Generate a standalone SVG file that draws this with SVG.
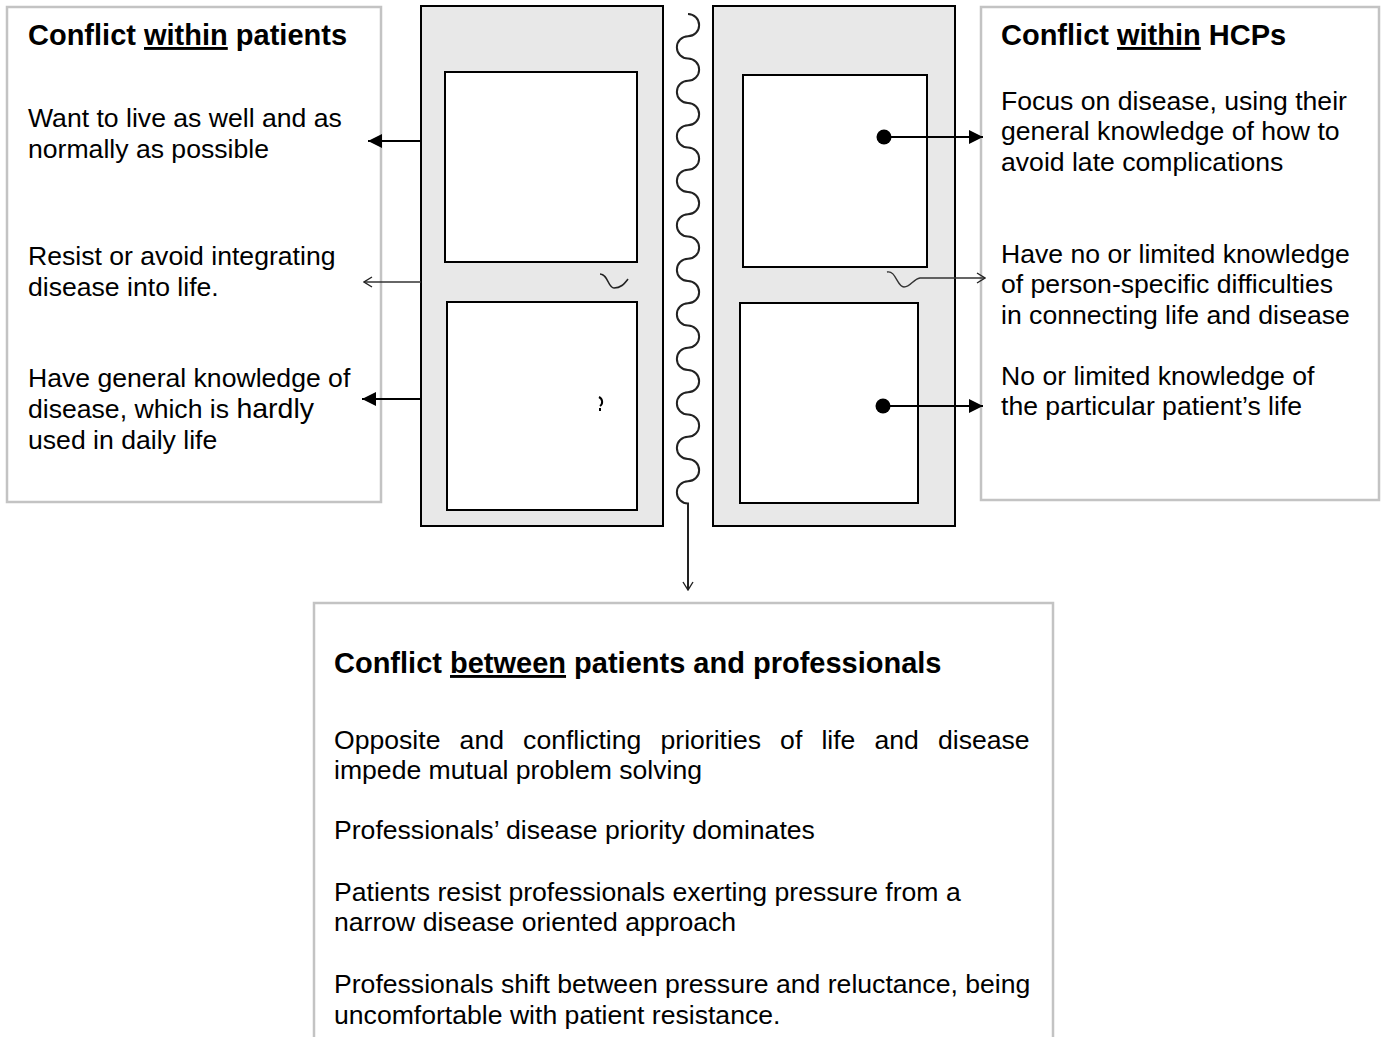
<svg xmlns="http://www.w3.org/2000/svg" width="1383" height="1037" viewBox="0 0 1383 1037">
<style>
text{font-family:"Liberation Sans",Arial,sans-serif;fill:#000}
.t{font-size:29px;font-weight:bold}
.b{font-size:26.6px}
.tb{fill:#fff;stroke:#c3c3c3;stroke-width:2.5}
.pn{fill:#e8e8e8;stroke:#000;stroke-width:2}
.in{fill:#fff;stroke:#000;stroke-width:2}
.af{fill:none;stroke:#000;stroke-width:2}
.ao{fill:none;stroke:#333;stroke-width:1.4}
</style>
<defs>
<marker id="arrF" viewBox="0 0 14 14" refX="14" refY="7" markerWidth="14" markerHeight="14" orient="auto" markerUnits="userSpaceOnUse"><path d="M0,0 L14,7 L0,14 Z" fill="#000"/></marker>
<marker id="arrO" viewBox="0 0 10 12" refX="9" refY="6" markerWidth="10" markerHeight="12" orient="auto" markerUnits="userSpaceOnUse"><path d="M1,1 L9,6 L1,11" fill="none" stroke="#222" stroke-width="1.4"/></marker>
<marker id="dot" viewBox="0 0 16 16" refX="8" refY="8" markerWidth="16" markerHeight="16" markerUnits="userSpaceOnUse"><circle cx="8" cy="8" r="7.5" fill="#000"/></marker>
</defs>
<rect width="1383" height="1037" fill="#fff"/>

<g id="patients-box">
<rect class="tb" x="7" y="7" width="374" height="495"/>
<text class="t" x="28" y="45">Conflict <tspan text-decoration="underline">within</tspan> patients</text>
<text class="b" x="28" y="127">Want to live as well and as</text>
<text class="b" x="28" y="158">normally as possible</text>
<text class="b" x="28" y="265">Resist or avoid integrating</text>
<text class="b" x="28" y="296">disease into life.</text>
<text class="b" x="28" y="387">Have general knowledge of</text>
<text class="b" x="28" y="418">disease, which is <tspan font-size="28.5">hardly</tspan></text>
<text class="b" x="28" y="449">used in daily life</text>
</g>

<g id="hcps-box">
<rect class="tb" x="981" y="7" width="398" height="493"/>
<text class="t" x="1001" y="45">Conflict <tspan text-decoration="underline">within</tspan> HCPs</text>
<text class="b" x="1001" y="110">Focus on disease, using their</text>
<text class="b" x="1001" y="140">general knowledge of how to</text>
<text class="b" x="1001" y="171">avoid late complications</text>
<text class="b" x="1001" y="263">Have no or limited knowledge</text>
<text class="b" x="1001" y="293">of person-specific difficulties</text>
<text class="b" x="1001" y="324">in connecting life and disease</text>
<text class="b" x="1001" y="385">No or limited knowledge of</text>
<text class="b" x="1001" y="415">the particular patient’s life</text>
</g>

<g id="patient-panel">
<rect class="pn" x="421" y="6" width="242" height="520"/>
<rect class="in" x="445" y="72" width="192" height="190"/>
<rect class="in" x="447" y="302" width="190" height="208"/>
<path d="M600,274 C608,274 608,288 614,288 C621,288 624,284 628,279" fill="none" stroke="#222" stroke-width="1.6"/>
<path d="M599,397 C603,399 603,404 600,406 M600,408 L600,411" fill="none" stroke="#000" stroke-width="2"/>
</g>

<g id="hcp-panel">
<rect class="pn" x="713" y="6" width="242" height="520"/>
<rect class="in" x="743" y="75" width="184" height="192"/>
<rect class="in" x="740" y="303" width="178" height="200"/>
</g>

<g id="between-box">
<path class="tb" d="M314,1045 V603 H1053 V1045"/>
<text class="t" x="334" y="673">Conflict <tspan text-decoration="underline">between</tspan> patients and professionals</text>
<text class="b" y="749"><tspan x="334">Opposite</tspan><tspan x="459.6">and</tspan><tspan x="523.1">conflicting</tspan><tspan x="660.5">priorities</tspan><tspan x="780.1">of</tspan><tspan x="821.4">life</tspan><tspan x="874.5">and</tspan><tspan x="938">disease</tspan></text>
<text class="b" x="334" y="779">impede mutual problem solving</text>
<text class="b" x="334" y="839">Professionals’ disease priority dominates</text>
<text class="b" x="334" y="901">Patients resist professionals exerting pressure from a</text>
<text class="b" x="334" y="931">narrow disease oriented approach</text>
<text class="b" x="334" y="993">Professionals shift between pressure and reluctance, being</text>
<text class="b" x="334" y="1024">uncomfortable with patient resistance.</text>
</g>

<g id="connectors">
<path class="af" d="M421,141 H368" marker-end="url(#arrF)"/>
<path class="ao" d="M421,282 H364" marker-end="url(#arrO)"/>
<path class="af" d="M421,399 H362" marker-end="url(#arrF)"/>
<path class="af" d="M884,137 H983" marker-start="url(#dot)" marker-end="url(#arrF)"/>
<path class="af" d="M883,406 H983" marker-start="url(#dot)" marker-end="url(#arrF)"/>
<path class="ao" d="M887,272 C896,270 897,287 904,287 C911,287 913,279 920,278 L985,278" marker-end="url(#arrO)"/>
<path fill="none" stroke="#222" stroke-width="2" marker-end="url(#arrO)" d="M688,14 a11.125,11.125 0 0 1 0,22.25 a11.125,11.125 0 0 0 0,22.25 a11.125,11.125 0 0 1 0,22.25 a11.125,11.125 0 0 0 0,22.25 a11.125,11.125 0 0 1 0,22.25 a11.125,11.125 0 0 0 0,22.25 a11.125,11.125 0 0 1 0,22.25 a11.125,11.125 0 0 0 0,22.25 a11.125,11.125 0 0 1 0,22.25 a11.125,11.125 0 0 0 0,22.25 a11.125,11.125 0 0 1 0,22.25 a11.125,11.125 0 0 0 0,22.25 a11.125,11.125 0 0 1 0,22.25 a11.125,11.125 0 0 0 0,22.25 a11.125,11.125 0 0 1 0,22.25 a11.125,11.125 0 0 0 0,22.25 a11.125,11.125 0 0 1 0,22.25 a11.125,11.125 0 0 0 0,22.25 a11.125,11.125 0 0 1 0,22.25 a11.125,11.125 0 0 0 0,22.25 a11.125,11.125 0 0 1 0,22.25 a11.125,11.125 0 0 0 0,22.25 L688,590"/>
</g>
</svg>
